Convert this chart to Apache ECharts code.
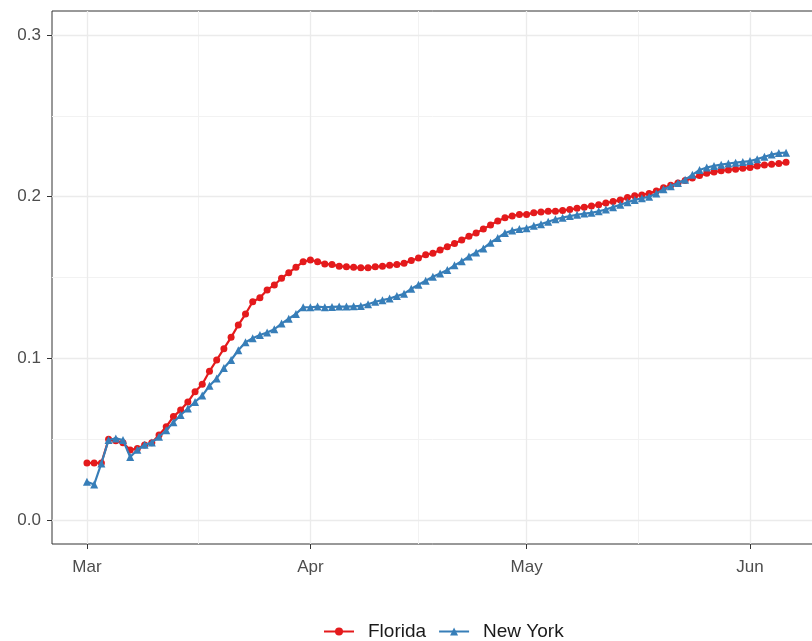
<!DOCTYPE html>
<html>
<head>
<meta charset="utf-8">
<script src="https://cdn.jsdelivr.net/npm/echarts@6/dist/echarts.min.js"></script>
<style>
html,body{margin:0;padding:0;background:#fff;overflow:hidden;}
#chart{width:812px;height:641px;}
</style>
</head>
<body>
<div id="chart"></div>
<script>
// Day index 0 = 2020-03-01
const startDate = '2020-03-01';
const monthLabels = ['Mar', 'Apr', 'May', 'Jun'];
const monthStartDays = [0, 31, 61, 92];
const yTicks = [0, 0.1, 0.2, 0.3];
const seriesNames = ['Florida', 'New York'];

const florida = [
  0.0353, 0.0353, 0.0353, 0.0499, 0.049, 0.0478, 0.0433, 0.0443, 0.0464, 0.0478,
  0.0526, 0.0577, 0.064, 0.068, 0.073, 0.0794, 0.084, 0.092, 0.099, 0.106,
  0.113, 0.1206, 0.1274, 0.135, 0.1375, 0.1423, 0.1454, 0.1495, 0.153, 0.1563,
  0.1598, 0.1608, 0.1598, 0.1584, 0.158, 0.157, 0.1566, 0.1563, 0.156, 0.156,
  0.1566, 0.157, 0.1575, 0.158, 0.1588, 0.1605, 0.162, 0.164, 0.165, 0.167,
  0.169, 0.171, 0.1732, 0.1755, 0.1775, 0.180, 0.1825, 0.185, 0.187, 0.188,
  0.189, 0.189, 0.190, 0.1905, 0.191, 0.191, 0.1915, 0.192, 0.1928, 0.1935,
  0.1942, 0.195, 0.196, 0.197, 0.198, 0.1995, 0.2005, 0.201, 0.202, 0.2035,
  0.2055, 0.207, 0.2085, 0.210, 0.2115, 0.213, 0.2144, 0.2152, 0.216, 0.2165,
  0.217, 0.2175, 0.218, 0.219, 0.2196, 0.220, 0.2205, 0.2212
];

const newYork = [
  0.0237, 0.022, 0.035, 0.0495, 0.0505, 0.0495, 0.039, 0.0435, 0.0465, 0.048,
  0.0515, 0.0555, 0.0605, 0.065, 0.069, 0.073, 0.077, 0.083, 0.0876, 0.094,
  0.099, 0.105, 0.110, 0.1124, 0.1144, 0.116, 0.118, 0.1215, 0.1245, 0.1275,
  0.1316, 0.1316, 0.132, 0.1316, 0.1318, 0.132, 0.132, 0.1322, 0.1324, 0.1335,
  0.135, 0.136, 0.137, 0.1385, 0.140, 0.143, 0.1455, 0.148, 0.1505, 0.1525,
  0.1546, 0.1575, 0.160, 0.163, 0.1655, 0.168, 0.1715, 0.1745, 0.1775, 0.179,
  0.180, 0.1805, 0.182, 0.183, 0.1845, 0.186, 0.187, 0.188, 0.1888, 0.1895,
  0.190, 0.191, 0.192, 0.1935, 0.195, 0.1965, 0.198, 0.199, 0.200, 0.202,
  0.2045, 0.2065, 0.2085, 0.2105, 0.2135, 0.2165, 0.218, 0.219, 0.2198, 0.2205,
  0.221, 0.2215, 0.222, 0.2232, 0.2247, 0.226, 0.227, 0.2272
];

const nDays = florida.length - 1;
const xPad = nDays * 0.05;
const xMin = -xPad, xMax = nDays + xPad;
const yMin = -0.0148, yMax = 0.3148;

const minorX = [];
for (let i = 0; i < monthStartDays.length - 1; i++) minorX.push((monthStartDays[i] + monthStartDays[i + 1]) / 2);
const minorY = [];
for (let i = 0; i < yTicks.length - 1; i++) minorY.push((yTicks[i] + yTicks[i + 1]) / 2);

const font = "'Liberation Sans', Arial, sans-serif";
const axisCol = '#333333';
const gridMajor = '#ebebeb';
const gridMinor = '#f2f2f2';

const chart = echarts.init(document.getElementById('chart'), null, {renderer: 'canvas'});
chart.setOption({
  animation: false,
  backgroundColor: '#ffffff',
  grid: {left: 52, top: 11, width: 769, bottom: 97, show: true, borderColor: axisCol, borderWidth: 1,
    backgroundColor: 'transparent', containLabel: false, outerBoundsMode: 'none'},
  legend: {
    top: 617, left: 318, orient: 'horizontal',
    itemWidth: 30, itemHeight: 10, itemGap: 12,
    textStyle: {fontFamily: font, fontSize: 19, color: '#1a1a1a', padding: [0, 0, 0, 9]},
    data: seriesNames
  },
  xAxis: [
    {
      type: 'value', min: xMin, max: xMax, z: 3,
      axisLine: {show: false, onZero: false},
      axisTick: {show: true, length: 5, lineStyle: {color: axisCol, width: 1}, customValues: monthStartDays},
      axisLabel: {show: true, customValues: monthStartDays, margin: 15, fontFamily: font, fontSize: 17, color: '#4d4d4d',
        formatter: v => { const i = monthStartDays.indexOf(Math.round(v)); return i >= 0 ? monthLabels[i] : ''; }},
      splitLine: {show: true, lineStyle: {color: gridMajor, width: 1.3}}
    },
    {
      type: 'value', min: xMin, max: xMax, position: 'bottom',
      axisLine: {show: false, onZero: false}, axisTick: {show: false, customValues: minorX},
      axisLabel: {show: false, customValues: minorX},
      splitLine: {show: true, lineStyle: {color: gridMinor, width: 1}}
    }
  ],
  yAxis: [
    {
      type: 'value', min: yMin, max: yMax, z: 3,
      axisLine: {show: false, onZero: false},
      axisTick: {show: true, length: 5, lineStyle: {color: axisCol, width: 1}, customValues: yTicks},
      axisLabel: {show: true, customValues: yTicks, margin: 11, fontFamily: font, fontSize: 17, color: '#4d4d4d',
        formatter: v => v.toFixed(1)},
      splitLine: {show: true, lineStyle: {color: gridMajor, width: 1.3}}
    },
    {
      type: 'value', min: yMin, max: yMax, position: 'left',
      axisLine: {show: false, onZero: false}, axisTick: {show: false, customValues: minorY},
      axisLabel: {show: false, customValues: minorY},
      splitLine: {show: true, lineStyle: {color: gridMinor, width: 1}}
    }
  ],
  series: [
    {
      name: seriesNames[0], type: 'line', xAxisIndex: 0, yAxisIndex: 0,
      data: florida.map((v, i) => [i, v]),
      symbol: 'circle', symbolSize: 7, showAllSymbol: true,
      lineStyle: {color: '#E41A1C', width: 2.2},
      itemStyle: {color: '#E41A1C'}, z: 4
    },
    {
      name: seriesNames[1], type: 'line', xAxisIndex: 0, yAxisIndex: 0,
      data: newYork.map((v, i) => [i, v]),
      symbol: 'triangle', symbolSize: 8, showAllSymbol: true,
      lineStyle: {color: '#377EB8', width: 2.2},
      itemStyle: {color: '#377EB8'}, z: 5
    }
  ]
});
</script>
</body>
</html>
